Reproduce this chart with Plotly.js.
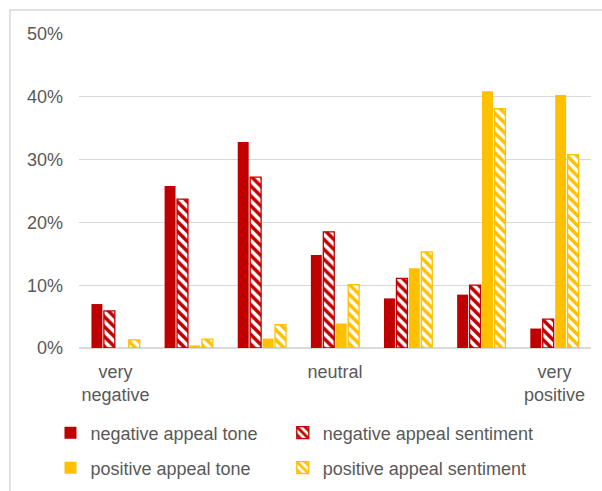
<!DOCTYPE html>
<html>
<head>
<meta charset="utf-8">
<script src="https://cdn.plot.ly/plotly-3.0.1.min.js"></script>
<style>html,body{margin:0;padding:0;background:#fff;}#chart{width:602px;height:491px;}</style>
</head>
<body>
<div id="chart"></div>
<script>
var categories = ["very<br>negative", " ", "  ", "neutral", "   ", "    ", "very<br>positive"];
var negativeTone = [0.070, 0.258, 0.328, 0.148, 0.079, 0.085, 0.031];
var negativeSentiment = [0.059, 0.237, 0.272, 0.185, 0.111, 0.100, 0.046];
var positiveTone = [0.000, 0.004, 0.015, 0.039, 0.127, 0.409, 0.403];
var positiveSentiment = [0.013, 0.014, 0.037, 0.101, 0.153, 0.381, 0.308];
var tickValues = [0, 0.1, 0.2, 0.3, 0.4, 0.5];
var tickLabels = ["0%", "10%", "20%", "30%", "40%", "50%"];

var RED = "#C00000", YEL = "#FFC000", TXT = "#595959", GRID = "#D9D9D9";
var FONT = "Liberation Sans, Arial, sans-serif";

function solid(name, y, c, leg) {
  return {type: "bar", name: name, x: categories, y: y, legend: leg,
    marker: {color: c, line: {width: 0}}, hoverinfo: "y"};
}
function hatched(name, y, c, leg) {
  return {type: "bar", name: name, x: categories, y: y, legend: leg,
    marker: {color: "white", line: {color: c, width: 1.3},
      pattern: {shape: "\\", fgcolor: c, bgcolor: "white", size: 7, solidity: 0.5, fillmode: "replace"}},
    hoverinfo: "y"};
}

var data = [
  solid("negative appeal tone", negativeTone, RED, "legend"),
  hatched("negative appeal sentiment", negativeSentiment, RED, "legend2"),
  solid("positive appeal tone", positiveTone, YEL, "legend3"),
  hatched("positive appeal sentiment", positiveSentiment, YEL, "legend4")
];

function leg(x, y) {
  return {orientation: "v", xanchor: "left", yanchor: "middle", x: x, y: y,
    font: {family: FONT, size: 18, color: TXT}, bgcolor: "rgba(0,0,0,0)"};
}
var c1 = -0.0557, c2 = 0.398, r1 = -0.2707, r2 = -0.382;

var layout = {
  width: 602, height: 491,
  margin: {l: 79, r: 11, t: 34, b: 143, autoexpand: false},
  paper_bgcolor: "white", plot_bgcolor: "white",
  font: {family: FONT, size: 18, color: TXT},
  barmode: "group", bargap: 0.32, bargroupgap: 0.12,
  showlegend: true,
  legend: leg(c1, r1), legend2: leg(c2, r1), legend3: leg(c1, r2), legend4: leg(c2, r2),
  xaxis: {type: "category", showgrid: false, zeroline: false, showline: false, ticks: "",
    tickfont: {family: FONT, size: 18, color: TXT}, ticklabelstandoff: 11, fixedrange: true},
  yaxis: {range: [0, 0.5], tickvals: tickValues, ticktext: tickLabels, showgrid: true,
    gridcolor: GRID, gridwidth: 1.3, zeroline: true, zerolinecolor: GRID, zerolinewidth: 1.3,
    showline: false, ticks: "", ticklabelstandoff: 15,
    tickfont: {family: FONT, size: 18, color: TXT}, fixedrange: true},
  shapes: [{type: "rect", xref: "paper", yref: "paper",
    x0: (10 - 79) / 512, x1: (605 - 79) / 512, y0: (348 - 495) / 314, y1: (348 - 10) / 314,
    line: {color: GRID, width: 1.5}, fillcolor: "rgba(0,0,0,0)", layer: "below"}]
};

Plotly.newPlot("chart", data, layout, {displayModeBar: false, staticPlot: true});
</script>
</body>
</html>
